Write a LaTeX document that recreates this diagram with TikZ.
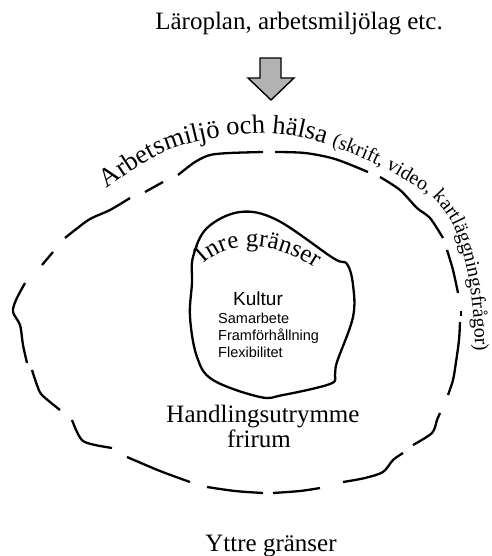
\documentclass[tikz,border=0pt]{standalone}
\usepackage{fontspec}
\setmainfont{Liberation Serif}
\setsansfont{Liberation Sans}
\usetikzlibrary{decorations.text}

\begin{document}
\begin{tikzpicture} [
    x=1pt, y=-1pt,
    big/.style={font=\fontsize{25}{30}\selectfont, anchor=base, inner sep=0pt},
    item/.style={font=\sffamily\fontsize{14.5}{17}\selectfont, anchor=base west, inner sep=0pt},
    dashpart/.style={line width=2.3pt, line join=round},
    blob/.style={line width=2.3pt, line join=round},
    ]
    \useasboundingbox (0,0) rectangle (491,556);

    % Top text and arrow
    \node[big] (plan) at (299,30) {Läroplan, arbetsmiljölag etc.};
    \draw[line width=1.4pt, fill=gray!60] (260,58) -- (281,58) -- (281,78) -- (294,78)
      -- (271,100) -- (248,78) -- (260,78) -- cycle;

    % Outer boundary, broken
    \draw[dashpart] plot[smooth] coordinates {(178,175) (195,162) (210,155) (230,153) (263,152)};
    \draw[dashpart] plot[smooth] coordinates {(275,152) (305,153) (335,159) (368,172)};
    \draw[dashpart] plot[smooth] coordinates {(380,177) (400,190) (417,208) (430,218) (443,238)};
    \draw[dashpart] plot[smooth] coordinates {(447,250) (453,270) (458,293)};
    \draw[dashpart] (461,311) -- (461,316);
    \draw[dashpart] plot[smooth] coordinates {(460,322) (459,340) (456,362) (453,380) (448,395)};
    \draw[dashpart] plot[smooth] coordinates {(440,413) (437,420) (432,433) (413,445)};
    \draw[dashpart] plot[smooth] coordinates {(403,453) (393,460) (383,472) (365,478) (343,482)};
    \draw[dashpart] plot[smooth] coordinates {(320,488) (300,491) (273,493)};
    \draw[dashpart] plot[smooth] coordinates {(263,493) (235,491) (207,487)};
    \draw[dashpart] plot[smooth] coordinates {(190,482) (160,471) (127,457)};
    \draw[dashpart] plot[smooth] coordinates {(112,448) (95,445) (83,441) (77,432) (72,420)};
    \draw[dashpart] plot[smooth] coordinates {(60,410) (42,395) (37,385) (32,370)};
    \draw[dashpart] plot[smooth] coordinates {(27,363) (23,345) (20,325) (13,312) (16,300) (25,283)};
    \draw[dashpart] (42,265) -- (53,252);
    \draw[dashpart] plot[smooth] coordinates {(65,238) (75,230) (90,219) (110,210) (130,198)};
    \draw[dashpart] (145,192) -- (163,182);

    % Text along the outer boundary
    \path[decorate, decoration={text along path, text={|\fontsize{26.5}{30}\selectfont|Arbetsmiljö och hälsa |\fontsize{20}{24}\selectfont|(skrift, video, kartläggningsfrågor)}}]
      plot[smooth] coordinates {(107,189) (125,176) (150,160) (175,148) (205,140) (235,135)
        (265,133) (295,136) (323,143) (350,153) (378,165) (403,179) (432,197) (451,221)
        (462,250) (469,280) (473,310) (475,340) (476,370) (476,420)};

    % Inner boundary
    \draw[blob] plot[smooth cycle, tension=0.6] coordinates {(193,257) (207,228) (240,212)
      (277,220) (333,258) (347,264) (353,285) (353,317) (337,362) (335,375) (330,384)
      (283,395) (260,397) (213,380) (197,357) (190,317) (192,283)};
    \path[decorate, decoration={text along path, text={|\fontsize{25}{30}\selectfont|Inre gränser}}]
      (204,264) .. controls (225,242) and (275,233) .. (335,282);

    % Inside
    \node[item, font=\sffamily\fontsize{19}{22}\selectfont] (kultur) at (233,305) {Kultur};
    \node[item] (samarbete) at (218,323) {Samarbete};
    \node[item] (framf) at (218,340) {Framförhållning};
    \node[item] (flex) at (218,357) {Flexibilitet};

    % Between the boundaries
    \node[big] (handling) at (263,422) {Handlingsutrymme};
    \node[big] (frirum) at (259,447) {frirum};

    % Bottom text
    \node[big] (yttre) at (271,551) {Yttre gränser};
\end{tikzpicture}
\end{document}
